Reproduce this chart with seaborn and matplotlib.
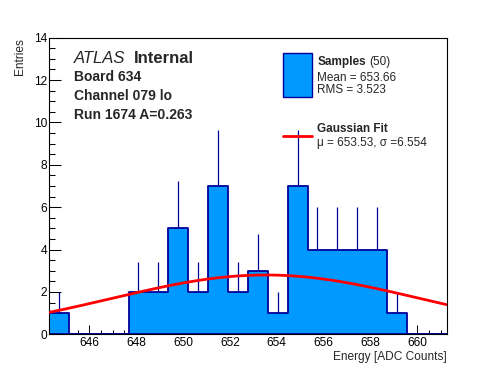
import numpy as np
import pandas as pd
import matplotlib
matplotlib.use("Agg")
import matplotlib.pyplot as plt
from matplotlib.ticker import MultipleLocator
from matplotlib.patches import Rectangle
from matplotlib.lines import Line2D
import seaborn as sns

# histogram of ADC samples (20 bins)
bin_lo = 644.28
bin_hi = 661.25
counts = [1, 0, 0, 0, 2, 2, 5, 2, 7, 2, 3, 1, 7, 4, 4, 4, 4, 1, 0, 0]

# gaussian fit parameters
fit_mu = 653.53
fit_sigma = 6.554
fit_amp = 2.8

x_ticks = [646, 648, 650, 652, 654, 656, 658, 660]
y_ticks = [0, 2, 4, 6, 8, 10, 12, 14]

FILL = "#0099ff"
EDGE = "#000099"

edges = np.linspace(bin_lo, bin_hi, len(counts) + 1)
centers = 0.5 * (edges[:-1] + edges[1:])
df = pd.DataFrame({"energy": centers, "entries": counts})

sns.set_style("ticks")
plt.rcParams["font.family"] = ["Liberation Sans", "DejaVu Sans"]

W, H = 496, 372
fig = plt.figure(figsize=(W / 100, H / 100), dpi=100)
ax = fig.add_axes([49 / W, (H - 334.3) / H, 397.7 / W, 296.6 / H])


def px(x, y):
    return x / W, 1 - y / H


# poisson error bars (behind the fill)
err = df[df.entries > 0]
ax.errorbar(err.energy, err.entries, yerr=np.sqrt(err.entries), fmt="none",
            ecolor=EDGE, elinewidth=0.9, zorder=1)

sns.histplot(data=df, x="energy", weights="entries", bins=list(edges), element="step",
             fill=True, color=FILL, edgecolor=EDGE, alpha=1, linewidth=1.3,
             ax=ax, zorder=2)

# fit curve
xs = np.linspace(bin_lo, bin_hi, 200)
ys = fit_amp * np.exp(-0.5 * ((xs - fit_mu) / fit_sigma) ** 2)
sns.lineplot(x=xs, y=ys, color="red", linewidth=2, ax=ax, zorder=3)

ax.set_xlim(bin_lo, bin_hi)
ax.set_ylim(0, 14)
ax.set_xticks(x_ticks)
ax.set_yticks(y_ticks)
ax.xaxis.set_minor_locator(MultipleLocator(0.5))
ax.yaxis.set_minor_locator(MultipleLocator(0.5))
ax.tick_params(which="both", direction="in", top=False, right=False,
               labelsize=8.6, colors="black", width=0.75)
ax.tick_params(axis="y", which="major", length=8.8, pad=1.5)
ax.tick_params(axis="y", which="minor", length=4.2)
ax.tick_params(axis="x", which="major", length=6.3, pad=2)
ax.tick_params(axis="x", which="minor", length=3.1)
for s in ax.spines.values():
    s.set_linewidth(0.8)
    s.set_color("black")

ax.set_xlabel("Energy [ADC Counts]", loc="right", fontsize=8.6)
ax.xaxis.set_label_coords(1.0, -0.056)
ax.set_ylabel("Entries", loc="top", fontsize=8.6)
ax.yaxis.set_label_coords(-0.058, 1.0)

# labels
fig.text(*px(74, 63.3), "ATLAS", fontsize=12, style="italic", va="baseline")
fig.text(*px(134, 63.3), "Internal", fontsize=12, weight="bold", va="baseline")
fig.text(*px(74, 80.7), "Board 634", fontsize=10, weight="bold", va="baseline")
fig.text(*px(74, 100), "Channel 079 lo", fontsize=10, weight="bold", va="baseline")
fig.text(*px(74, 119), "Run 1674 A=0.263", fontsize=10, weight="bold", va="baseline")

# legend
x0, y0 = px(283.3, 96.7)
x1, y1 = px(311.7, 53.3)
fig.add_artist(Rectangle((x0, y0), x1 - x0, y1 - y0, transform=fig.transFigure,
                         facecolor=FILL, edgecolor=EDGE, linewidth=1))
lx0, ly = px(283.3, 135.7)
lx1, _ = px(311.7, 135.7)
fig.add_artist(Line2D([lx0, lx1], [ly, ly], transform=fig.transFigure,
                      color="red", linewidth=2))
fig.text(*px(317.3, 65), "Samples", fontsize=8.5, weight="bold", va="baseline")
fig.text(*px(369.3, 65), "(50)", fontsize=8.5, va="baseline")
fig.text(*px(317.3, 81), "Mean = 653.66", fontsize=8.5, va="baseline")
fig.text(*px(317.3, 93.3), "RMS = 3.523", fontsize=8.5, va="baseline")
fig.text(*px(317.3, 132.3), "Gaussian Fit", fontsize=8.5, weight="bold", va="baseline")
fig.text(*px(317.3, 145.7), "\u03bc = 653.53, \u03c3 =6.554", fontsize=8.5, va="baseline")

fig.savefig("out.png", dpi=100)
